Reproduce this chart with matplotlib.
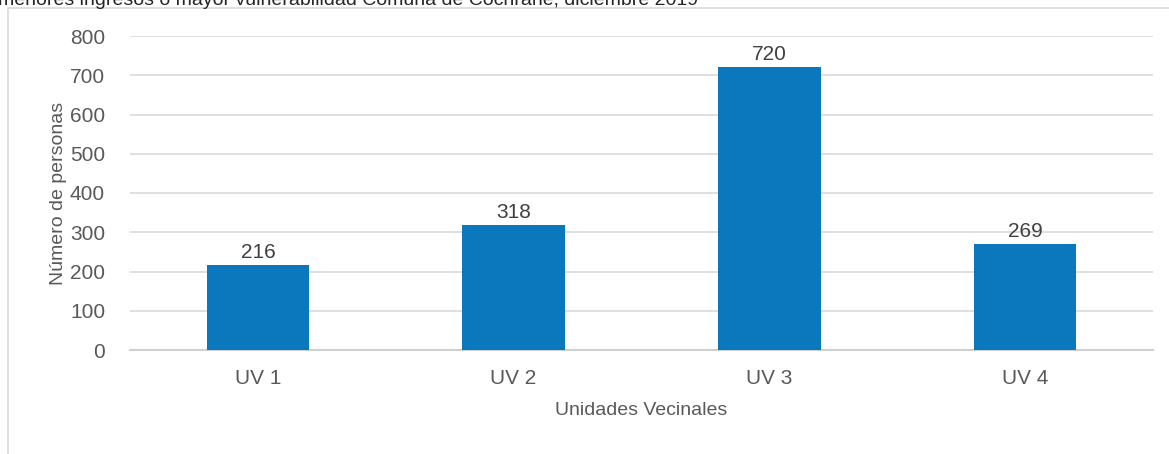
import matplotlib.pyplot as plt
from matplotlib.patches import Rectangle
from matplotlib import font_manager

# ---- data ----
unidades = ['UV 1', 'UV 2', 'UV 3', 'UV 4']
personas = [216, 318, 720, 269]
y_ticks = [0, 100, 200, 300, 400, 500, 600, 700, 800]

# narrow sans if available
names = {f.name for f in font_manager.fontManager.ttflist}
fam = 'Liberation Sans Narrow' if 'Liberation Sans Narrow' in names else 'Liberation Sans'
plt.rcParams['font.family'] = [fam, 'DejaVu Sans']

gray = '#595959'
bar_color = '#0b77bd'

W, H = 1169, 454
fig = plt.figure(figsize=(W / 100, H / 100), dpi=100)

# chart frame
fig.patches.append(Rectangle((8 / W, -0.1), 1.2, (H - 8) / H + 0.1,
                             transform=fig.transFigure, fill=False,
                             edgecolor='#d9d9d9', linewidth=1.2))

# heading above the frame
fig.text(-0.002, 1 - 5 / H,
         'menores ingresos o mayor vulnerabilidad Comuna de Cochrane, diciembre 2019',
         ha='left', va='baseline', fontsize=14, color='#262626',
         family=['Liberation Sans', 'DejaVu Sans'])

ax = fig.add_axes([130 / W, 1 - 350 / H, (1153 - 130) / W, (350 - 36) / H])
x = range(len(unidades))
bars = ax.bar(x, personas, width=0.4, color=bar_color, zorder=3)
for b, v in zip(bars, personas):
    ax.text(b.get_x() + b.get_width() / 2, v + 8, str(v),
            ha='center', va='bottom', fontsize=15, color='#404040')

ax.set_xlim(-0.5, len(unidades) - 0.5)
ax.set_ylim(0, 800)
ax.set_yticks(y_ticks)
ax.set_xticks(list(x))
ax.set_xticklabels(unidades)
ax.grid(axis='y', color='#d9d9d9', linewidth=1.2, zorder=0)
for s in ['top', 'right', 'left']:
    ax.spines[s].set_visible(False)
ax.spines['bottom'].set_color('#d0d0d0')
ax.spines['bottom'].set_linewidth(1.5)
ax.tick_params(length=0, labelsize=15, colors=gray)
ax.tick_params(axis='y', pad=18)
ax.tick_params(axis='x', pad=14)
ax.set_ylabel('Número de personas', fontsize=14, color=gray, labelpad=2)
ax.set_xlabel('Unidades Vecinales', fontsize=14, color=gray, labelpad=10)

fig.savefig('out.png', dpi=100)
